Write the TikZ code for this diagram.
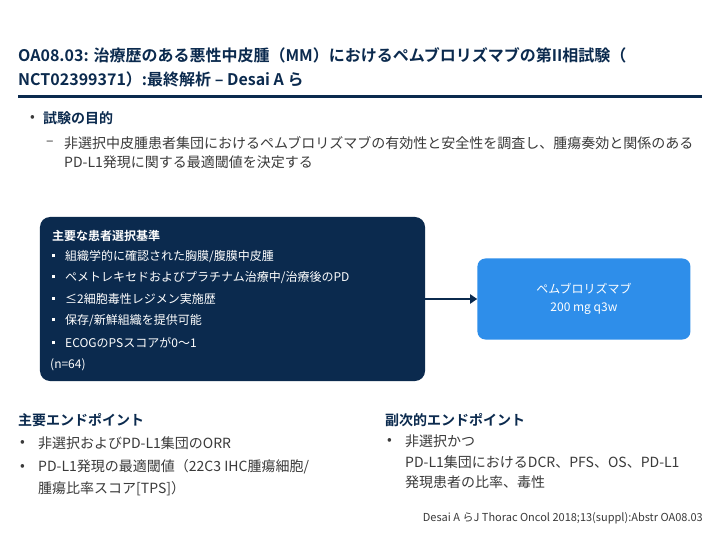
\documentclass[tikz,border=0pt]{standalone}
\usepackage{fontspec}
\setmainfont{Noto Sans CJK JP}[BoldFont={Noto Sans CJK JP Bold}]
\usepackage{xcolor}
\usetikzlibrary{positioning,arrows.meta}

\definecolor{navy}{HTML}{0B2A4E}
\definecolor{skyblue}{HTML}{2E8EEA}
\definecolor{bodygray}{HTML}{3A3A3A}
\newcommand{\sqbullet}{\rule[0.3em]{3bp}{3bp}}

\begin{document}
\begin{tikzpicture}[
    x=1bp, y=-1bp,
    title/.style={anchor=west, inner sep=0pt, text=navy, font=\fontsize{16bp}{19bp}\selectfont\bfseries},
    txt/.style={anchor=west, inner sep=0pt, text=bodygray, font=\fontsize{14bp}{17bp}\selectfont},
    head/.style={anchor=west, inner sep=0pt, text=navy, font=\fontsize{14bp}{17bp}\selectfont\bfseries},
    crit/.style={anchor=west, inner sep=0pt, text=white, font=\fontsize{12bp}{14bp}\selectfont},
    block/.style={rectangle, rounded corners=10bp, inner sep=0pt},
    arrow/.style={-{Triangle[length=7bp,width=9bp]}, line width=2.5bp, navy}
]
    \useasboundingbox[fill=white] (0,0) rectangle (720,540);

    % title
    \node[title] (title1) at (18,55) {OA08.03: 治療歴のある悪性中皮腫（MM）におけるペムブロリズマブの第II相試験（};
    \node[title] (title2) at (18,79) {NCT02399371）:最終解析 – Desai A ら};
    \draw[navy, line width=3bp] (18,97) -- (702,97);

    % objective
    \node[txt] (objdot) at (30,118) {•};
    \node[head, text=navy] (obj) at (43,118) {試験の目的};
    \node[txt] (objdash) at (46,143) {–};
    \node[txt] (obj1) at (64,143) {非選択中皮腫患者集団におけるペムブロリズマブの有効性と安全性を調査し、腫瘍奏効と関係のある};
    \node[txt] (obj2) at (64,162) {PD-L1発現に関する最適閾値を決定する};

    % study design
    \node[block, fill=navy, minimum width=385bp, minimum height=164bp] (criteria) at (232.5,299) {};
    \node[block, fill=skyblue, rounded corners=8bp, minimum width=213bp, minimum height=81bp,
          right=52bp of criteria, align=center, text=white,
          font=\fontsize{12bp}{18bp}\selectfont] (regimen) {ペムブロリズマブ\\200 mg q3w};
    \draw[arrow] (criteria) -- (regimen);

    \node[crit, font=\fontsize{12bp}{14bp}\selectfont\bfseries] (crithead) at (52,236) {主要な患者選択基準};
    \node[crit] (c1) at (52,257) {\sqbullet\hspace{10bp}組織学的に確認された胸膜/腹膜中皮腫};
    \node[crit] (c2) at (52,278) {\sqbullet\hspace{10bp}ペメトレキセドおよびプラチナム治療中/治療後のPD};
    \node[crit] (c3) at (52,299) {\sqbullet\hspace{10bp}≤2細胞毒性レジメン実施歴};
    \node[crit] (c4) at (52,321) {\sqbullet\hspace{10bp}保存/新鮮組織を提供可能};
    \node[crit] (c5) at (52,343) {\sqbullet\hspace{10bp}ECOGのPSスコアが0〜1};
    \node[crit] (cn) at (50,365) {(n=64)};

    % primary endpoints
    \node[head] (prim) at (18,420) {主要エンドポイント};
    \node[txt] (pdot1) at (20,443) {•};
    \node[txt] (p1) at (38,443) {非選択およびPD-L1集団のORR};
    \node[txt] (pdot2) at (20,467) {•};
    \node[txt] (p2) at (38,467) {PD-L1発現の最適閾値（22C3 IHC腫瘍細胞/};
    \node[txt] (p3) at (38,489) {腫瘍比率スコア[TPS]）};

    % secondary endpoints
    \node[head] (sec) at (385,420) {副次的エンドポイント};
    \node[txt] (sdot) at (387,441) {•};
    \node[txt] (s1) at (405,441) {非選択かつ};
    \node[txt] (s2) at (405,462) {PD-L1集団におけるDCR、PFS、OS、PD-L1};
    \node[txt] (s3) at (405,482) {発現患者の比率、毒性};

    \node[txt, anchor=east, font=\fontsize{11bp}{13bp}\selectfont] (ref) at (703,518) {Desai A らJ Thorac Oncol 2018;13(suppl):Abstr OA08.03};
\end{tikzpicture}
\end{document}
